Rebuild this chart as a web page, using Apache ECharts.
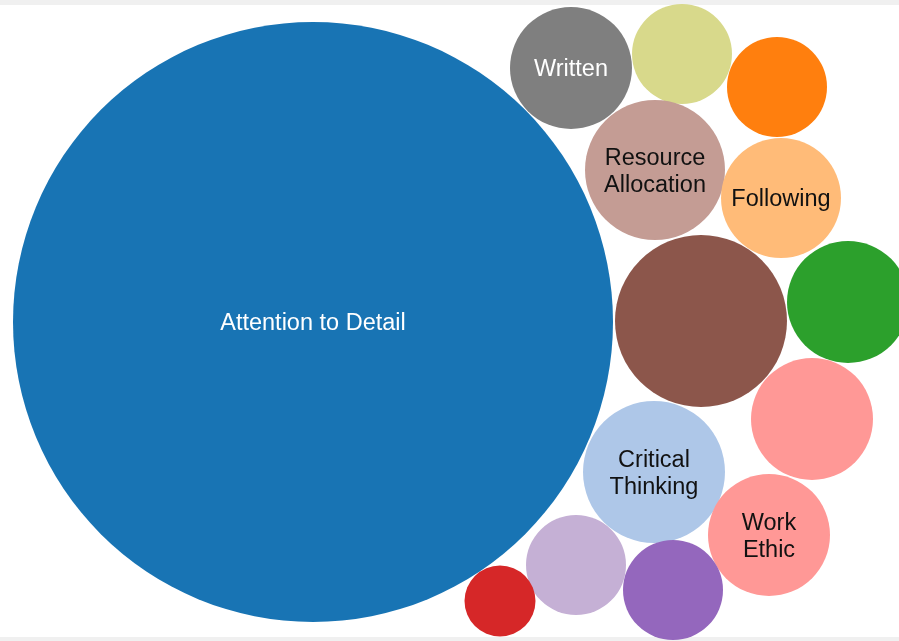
<!DOCTYPE html>
<html>
<head>
<meta charset="utf-8">
<script src="https://cdn.jsdelivr.net/npm/echarts@6/dist/echarts.min.js"></script>
<style>
html, body { margin: 0; padding: 0; background: #fff; }
#main { width: 899px; height: 641px; }
</style>
</head>
<body>
<div id="main"></div>
<script>
// bubble names (empty = unlabeled)
var names = ["Attention to Detail", "Written", "", "", "Resource\nAllocation", "Following",
  "", "", "", "Critical\nThinking", "Work\nEthic", "", "", ""];
// centre x / y and radius in chart units (same scale as pixels)
var xs = [313, 571, 682, 777, 655, 781, 701, 848, 812, 654, 769, 576, 673, 500];
var ys = [322, 68, 54, 87, 170, 198, 321, 302, 419, 472, 535, 565, 590, 601];
var radii = [300, 61, 50, 50, 70, 60, 86, 61, 61, 71, 61, 50, 50, 35.5];
var colors = ["#1874b4", "#7f7f7f", "#d8d98b", "#ff7f0e", "#c49c94", "#ffbb78", "#8c564b",
  "#2ca02c", "#ff9896", "#aec7e8", "#ff9896", "#c5b0d5", "#9467bd", "#d62728"];
var labelColors = ["#fff", "#fff", "#111", "#111", "#111", "#111", "#111",
  "#111", "#111", "#111", "#111", "#111", "#111", "#111"];

var myChart = echarts.init(document.getElementById("main"));

var data = names.map(function (n, i) {
  return {
    name: n,
    value: [xs[i], ys[i], radii[i]],
    itemStyle: { color: colors[i], opacity: 1 },
    label: { color: labelColors[i] }
  };
});

myChart.setOption({
  animation: false,
  grid: { left: 0, right: 0, top: 0, bottom: 0 },
  xAxis: { type: "value", min: 0, max: 899, show: false },
  yAxis: { type: "value", min: 0, max: 641, inverse: true, show: false },
  graphic: [
    { type: "rect", left: 0, top: 0, shape: { width: 899, height: 5 }, style: { fill: "#f0f0f0" } },
    { type: "rect", left: 0, bottom: 0, shape: { width: 899, height: 4 }, style: { fill: "#f0f0f0" } }
  ],
  series: [
    {
      type: "scatter",
      clip: false,
      data: data,
      symbol: "circle",
      symbolSize: function (val) {
        return val[2] * 2;
      },
      itemStyle: { opacity: 1 },
      emphasis: { disabled: true },
      label: {
        show: true,
        position: "inside",
        offset: [0, 2],
        formatter: "{b}",
        fontFamily: "'Liberation Sans', Arial, sans-serif",
        fontSize: 23.5,
        lineHeight: 27,
        textBorderWidth: 0
      }
    }
  ]
});

window.addEventListener("resize", function () {
  myChart.resize();
});
</script>
</body>
</html>
